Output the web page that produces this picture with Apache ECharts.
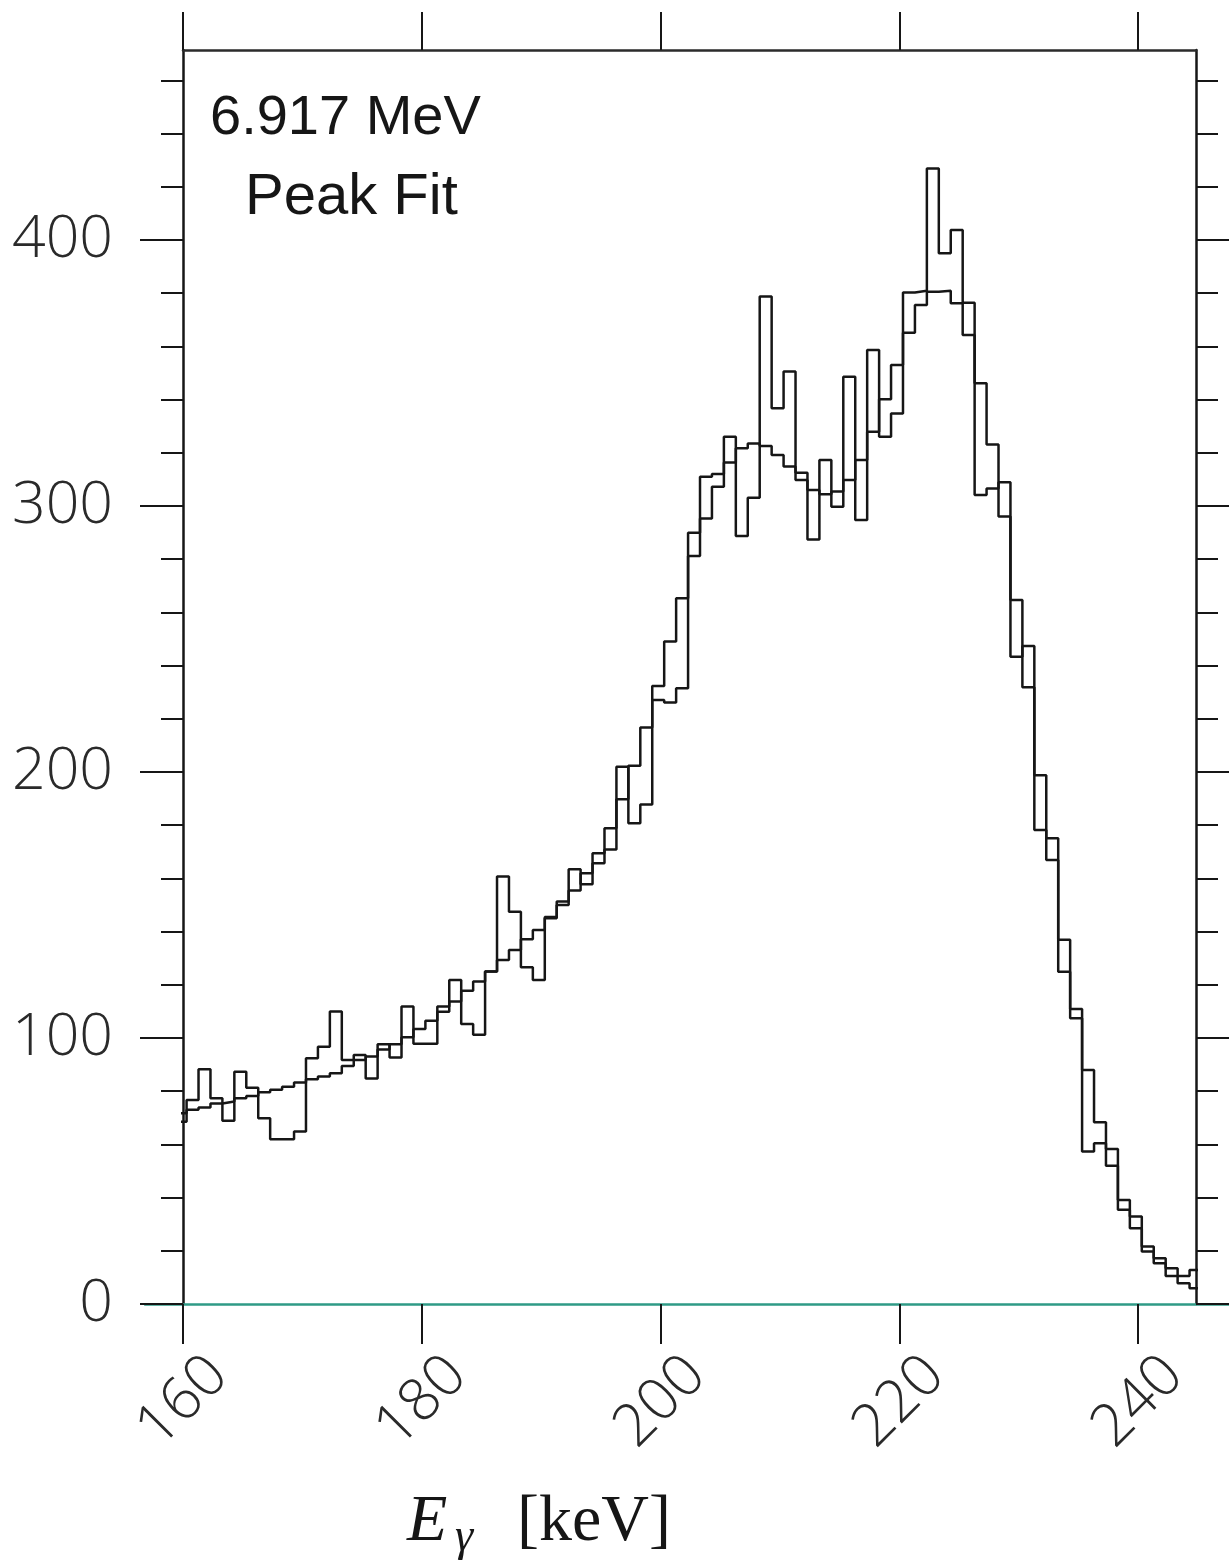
<!DOCTYPE html>
<html>
<head>
<meta charset="utf-8">
<script src="https://cdn.jsdelivr.net/npm/echarts@6/dist/echarts.min.js"></script>
<style>
  html, body { margin: 0; padding: 0; background: #fff; }
  #chart { width: 1229px; height: 1564px; }
</style>
</head>
<body>
<div id="chart"></div>
<script>
// 1 keV bins, first bin starts left of the axis and is clipped
var binStart = 159.3;
var binWidth = 1;

// measured spectrum (counts per bin)
var counts = [
  68.5, 76.7, 88.2, 77.3, 68.9, 87.3, 81.3, 69.8, 61.9, 61.9,
  64.8, 92.4, 96.7, 110, 91.7, 93.6, 84.8, 97.6, 92.7, 111.8,
  97.8, 97.8, 111.8, 121.8, 105.3, 101.2, 125, 160.7, 147.5, 126.6,
  121.8, 145.5, 151.3, 163.4, 157.8, 165.7, 170.9, 202, 180.7, 187.8,
  227.1, 226.1, 231.5, 289.9, 311, 312, 326, 288.7, 303.1, 378.7,
  336.7, 350.5, 312.5, 287.4, 317.3, 299.7, 348.6, 294.7, 358.6, 326,
  334.8, 380.2, 380.9, 426.9, 395, 403.7, 376.4, 304.1, 306.6, 308.9,
  243.3, 247.4, 178.2, 175.1, 124.9, 107.4, 57.3, 60.4, 58.3, 35.4,
  32.9, 19.7, 17.2, 13.4, 10.5, 12.8
];

// peak fit
var fitCounts = [
  71.7, 73, 73.9, 75.4, 76.1, 77.3, 78.2, 79.6, 80.5, 81.7,
  83.3, 84.5, 85.5, 86.7, 89.5, 91.7, 93, 95.7, 97.6, 100.3,
  103.4, 106.5, 109.9, 113.7, 117.8, 121.2, 125, 129.3, 133.1, 137.1,
  140.6, 145, 150, 155.4, 161.9, 169.4, 178.8, 189.7, 202.3, 216.7,
  232.3, 249, 265.3, 281.2, 295.3, 307.2, 316.3, 321.7, 323.5, 322.5,
  319.2, 314.8, 309.8, 306, 304.4, 305.4, 309.8, 317.3, 327.9, 340.1,
  353, 365.1, 375.5, 380.5, 380.9, 376.2, 364.3, 346.1, 323.1, 296,
  264.6, 231.8, 198.8, 166.9, 136.9, 110.9, 88, 68.3, 52, 39.1,
  28.5, 21.6, 15.3, 10.5, 7.8, 5.9
];

var xTicks = [160, 180, 200, 220, 240];
var yMajorTicks = [0, 100, 200, 300, 400];
var yMinorTicks = [20, 40, 60, 80, 120, 140, 160, 180, 220, 240, 260, 280,
  320, 340, 360, 380, 420, 440, 460];

var xMin = 160, xMax = 244.84;
var yMin = 0, yMax = 471.4;

function toSteps(vals) {
  var pts = vals.map(function (v, i) { return [binStart + i * binWidth, v]; });
  pts.push([binStart + vals.length * binWidth, vals[vals.length - 1]]);
  return pts;
}

var ink = '#161616';
var labelFont = { fontFamily: 'Open Sans', fontWeight: 300, color: '#2a2a2a' };
var handFont = 'Liberation Sans Narrow, Liberation Sans';

function yAx(position, ticks, len, showLine, showLabel) {
  return {
    type: 'value', gridIndex: 0, position: position, min: yMin, max: yMax,
    axisLine: { show: showLine, onZero: false, lineStyle: { color: ink, width: 2.5 } },
    axisTick: { show: true, customValues: ticks, length: len, lineStyle: { color: ink, width: 2 } },
    axisLabel: showLabel ? {
      customValues: yMajorTicks, margin: 70, fontSize: 59,
      fontFamily: labelFont.fontFamily, fontWeight: labelFont.fontWeight, color: labelFont.color
    } : { show: false },
    splitLine: { show: false }
  };
}

var chart = echarts.init(document.getElementById('chart'));
chart.setOption({
  animation: false,
  backgroundColor: '#fff',
  title: [
    { text: '6.917 MeV', left: 205, top: 86,
      textStyle: { fontFamily: handFont, fontSize: 56, fontWeight: 'normal', color: ink } },
    { text: 'Peak Fit', left: 240, top: 164,
      textStyle: { fontFamily: handFont, fontSize: 58, fontWeight: 'normal', color: ink } },
    { text: 'E', left: 402, top: 1485,
      textStyle: { fontFamily: 'Liberation Serif', fontStyle: 'italic', fontSize: 66, fontWeight: 'normal', color: ink } },
    { text: 'γ', left: 450, top: 1510,
      textStyle: { fontFamily: 'Liberation Serif', fontStyle: 'italic', fontSize: 46, fontWeight: 'normal', color: ink } },
    { text: '[keV]', left: 512, top: 1485,
      textStyle: { fontFamily: 'Liberation Serif', fontSize: 66, fontWeight: 'normal', color: ink } }
  ],
  grid: [
    { left: 183, right: 33, top: 50, bottom: 260 },
    { left: 145, right: 0, top: 50, bottom: 260 }
  ],
  xAxis: [
    {
      type: 'value', gridIndex: 0, position: 'bottom', min: xMin, max: xMax,
      axisLine: { show: false, onZero: false },
      axisTick: { customValues: xTicks, length: 40, lineStyle: { color: ink, width: 2 } },
      axisLabel: {
        customValues: xTicks, rotate: 45, align: 'center', verticalAlign: 'middle',
        margin: 98, fontSize: 59,
        fontFamily: labelFont.fontFamily, fontWeight: labelFont.fontWeight, color: labelFont.color
      },
      splitLine: { show: false }
    },
    {
      type: 'value', gridIndex: 0, position: 'top', min: xMin, max: xMax,
      axisLine: { show: true, onZero: false, lineStyle: { color: '#2b2b2b', width: 2.5 } },
      axisTick: { customValues: xTicks, length: 38, lineStyle: { color: ink, width: 2 } },
      axisLabel: { show: false },
      splitLine: { show: false }
    },
    {
      type: 'value', gridIndex: 1, position: 'bottom', min: 0, max: 1,
      axisLine: { show: true, onZero: false, lineStyle: { color: '#2f9a86', width: 2.5 } },
      axisTick: { show: false }, axisLabel: { show: false }, splitLine: { show: false }
    }
  ],
  yAxis: [
    yAx('left', yMajorTicks, 43, true, true),
    yAx('left', yMinorTicks, 22, false, false),
    yAx('right', yMajorTicks, 40, true, false),
    yAx('right', yMinorTicks, 22, false, false),
    { type: 'value', gridIndex: 1, min: 0, max: 1, show: false }
  ],
  series: [
    {
      name: 'fit', type: 'line', xAxisIndex: 0, yAxisIndex: 0,
      data: toSteps(fitCounts), step: 'end', symbol: 'none', clip: true,
      lineStyle: { color: ink, width: 2.5 }
    },
    {
      name: 'data', type: 'line', xAxisIndex: 0, yAxisIndex: 0,
      data: toSteps(counts), step: 'end', symbol: 'none', clip: true,
      lineStyle: { color: ink, width: 2.5 }
    }
  ]
});
</script>
</body>
</html>
